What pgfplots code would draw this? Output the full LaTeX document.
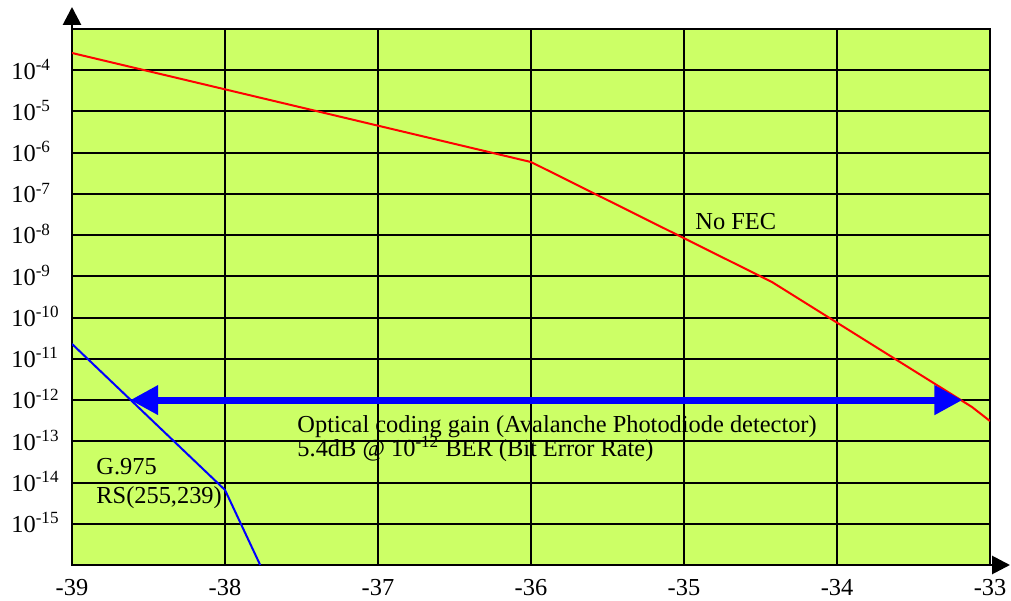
\documentclass[border=0pt]{standalone}
\usepackage{pgfplots}
\pgfplotsset{compat=1.18}
\usepackage{fontspec}
\setmainfont{Liberation Serif}
\usetikzlibrary{arrows.meta}
\definecolor{bg}{RGB}{204,255,102}
\begin{document}
\begin{tikzpicture}[font=\fontsize{12.2}{14}\selectfont]
\path[use as bounding box] (0,0) rectangle (505.5pt,300pt);
\begin{axis}[
  name=ax,
  at={(36pt,17.5pt)}, anchor=south west,
  width=459pt, height=268pt, scale only axis,
  xmin=-39, xmax=-33,
  ymode=log, ymin=1e-16, ymax=1e-3,
  xtick={-39,-38,-37,-36,-35,-34,-33},
  xticklabels={-39,-38,-37,-36,-35,-34,-33},
  ytick={1e-4,1e-5,1e-6,1e-7,1e-8,1e-9,1e-10,1e-11,1e-12,1e-13,1e-14,1e-15},
  yticklabels={10\textsuperscript{-4},10\textsuperscript{-5},10\textsuperscript{-6},10\textsuperscript{-7},10\textsuperscript{-8},10\textsuperscript{-9},10\textsuperscript{-10},10\textsuperscript{-11},10\textsuperscript{-12},10\textsuperscript{-13},10\textsuperscript{-14},10\textsuperscript{-15}},
  minor tick num=0,
  grid=major,
  major grid style={black, line width=1pt},
  axis line style={black, line width=1.4pt},
  major tick length=0pt, minor tick length=0pt,
  axis background/.style={fill=bg},
  xticklabel style={anchor=base, inner sep=0pt, yshift=-15pt},
  yticklabel style={anchor=base west, inner sep=0pt, xshift=-30.5pt, yshift=-4.4pt},
]
\addplot[red, line width=1pt] coordinates {(-39,2.62e-4) (-36,5.94e-7) (-34.425,7.3e-10) (-33.118,6.8e-13) (-33,3.1e-13)};
\addplot[blue, line width=1pt] coordinates {(-39,2.3e-11) (-38,6.6e-15) (-37.77,1e-16)};
\addplot[blue, line width=3.5pt, {Triangle[length=14pt,width=14pt]}-{Triangle[length=14pt,width=14pt]}] coordinates {(-38.62,1e-12) (-33.18,1e-12)};
\node[anchor=base west, inner sep=0pt] at (axis cs:-34.928,1.41e-8) {No FEC};
\node[anchor=base west, inner sep=0pt] at (axis cs:-37.529,1.68e-13) {Optical coding gain (Avalanche Photodiode detector)};
\node[anchor=base west, inner sep=0pt] at (axis cs:-37.529,4.4e-14) {5.4dB @ 10\textsuperscript{-12} BER (Bit Error Rate)};
\node[anchor=base west, inner sep=0pt] at (axis cs:-38.843,1.61e-14) {G.975};
\node[anchor=base west, inner sep=0pt] at (axis cs:-38.843,3.18e-15) {RS(255,239)};
\end{axis}
\draw[line width=1.4pt, -{Triangle[length=9pt,width=9pt]}] (ax.north west) -- ++(0,11pt);
\draw[line width=1.4pt, -{Triangle[length=9pt,width=9pt]}] (ax.south east) -- ++(10pt,0);
\end{tikzpicture}
\end{document}
